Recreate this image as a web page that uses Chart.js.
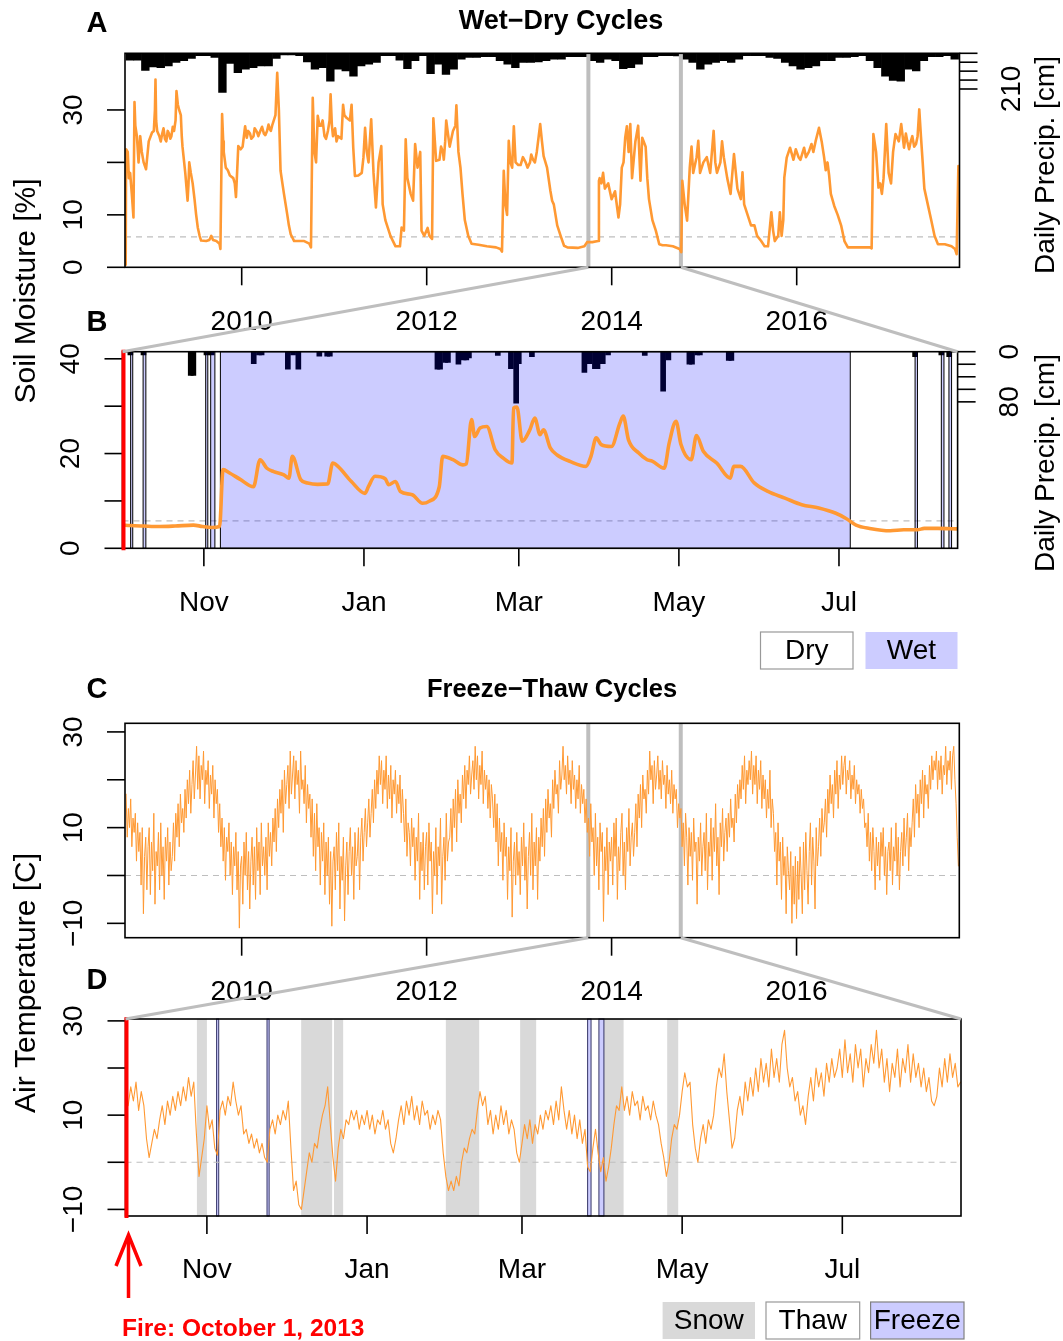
<!DOCTYPE html>
<html>
<head>
<meta charset="utf-8">
<script src="https://cdn.jsdelivr.net/npm/chart.js@4.4.1/dist/chart.umd.min.js"></script>
<style>
  html, body { margin: 0; padding: 0; background: #fff; }
  #wrap { position: relative; width: 1063px; height: 1341px; overflow: hidden; }
  #wrap canvas { position: absolute; left: 0; top: 0; }
</style>
</head>
<body>
<div id="wrap">
  <canvas id="cA" width="1063" height="1341"></canvas>
  <canvas id="cB" width="1063" height="1341"></canvas>
  <canvas id="cC" width="1063" height="1341"></canvas>
  <canvas id="cD" width="1063" height="1341"></canvas>
  <canvas id="cOver" width="1063" height="1341"></canvas>
</div>
<script>
// ---------------- data ----------------
// Axis ticks
const yearTicks = [2010, 2012, 2014, 2016];
const yearTickLabels = ['2010', '2012', '2014', '2016'];
const monthTickDays = [31, 92, 151, 212, 273];          // days after 1 Oct 2013
const monthTickLabels = ['Nov', 'Jan', 'Mar', 'May', 'Jul'];
const moistureTicksA = [0, 10, 20, 30];
const moistureLabelsA = ['0', '10', '', '30'];
const moistureTicksB = [0, 10, 20, 30, 40];
const moistureLabelsB = ['0', '', '20', '', '40'];
const precipTicksA = [0, 52.5, 105, 157.5, 210];
const precipLabelsA = ['', '', '', '', '210'];
const precipTicksB = [0, 20, 40, 60, 80];
const precipLabelsB = ['0', '', '', '', '80'];
const tempTicks = [-10, 0, 10, 20, 30];
const tempLabels = ['\u221210', '', '10', '', '30'];

// Fire date and the one-year window shown in the detail panels (decimal years)
const fireYear = 2013.748;
const windowEndYear = 2014.748;
const dryThreshold = 5.8;   // % soil moisture
const freezePoint = 0;      // deg C

// Panel A: soil moisture [%] (decimal year, value)
const soilMoistureA = [
 [2008.746,0.5],[2008.750,22.5],[2008.768,22],[2008.780,17],[2008.794,18],[2008.812,14],[2008.830,9.5],[2008.841,31.5],
 [2008.850,27],[2008.867,25],[2008.885,20],[2008.903,25],[2008.920,22],[2008.940,20],[2008.966,18.7],[2008.995,24],
 [2009.031,25.7],[2009.050,26],[2009.062,30],[2009.068,35.8],[2009.075,28],[2009.086,26],[2009.110,25],[2009.125,24],
 [2009.141,25.5],[2009.155,26.5],[2009.170,24.5],[2009.185,24],[2009.200,26],[2009.214,25.5],[2009.228,24.5],[2009.240,25],
 [2009.255,26.8],[2009.269,26],[2009.285,28],[2009.295,33.6],[2009.310,31],[2009.324,30],
 [2009.342,29],[2009.352,25],[2009.360,23],[2009.390,18],[2009.415,12.7],[2009.425,16],[2009.433,20],[2009.450,18],
 [2009.470,16],[2009.490,13],[2009.507,10.1],[2009.525,7.6],[2009.545,6],[2009.561,5.1],[2009.616,5],[2009.650,5.2],
 [2009.671,6],[2009.690,5.2],[2009.726,5],[2009.760,4.5],[2009.770,3.5],[2009.788,29.2],[2009.800,24],[2009.806,22],
 [2009.828,19],[2009.850,18.5],[2009.872,17.5],[2009.909,17],[2009.925,16],[2009.938,13.4],[2009.950,18],[2009.963,23.1],
 [2009.989,22.5],[2010.010,23],[2010.037,26.9],[2010.055,24.7],[2010.070,26],[2010.090,25.5],[2010.105,24.5],[2010.128,25],
 [2010.140,26.5],[2010.165,25.8],[2010.180,25],[2010.201,26],[2010.220,26.8],[2010.240,25.5],[2010.255,25.2],[2010.274,26],
 [2010.290,27.2],[2010.300,26.5],[2010.315,26],[2010.329,27],[2010.365,29],[2010.384,37.1],[2010.402,30],[2010.420,18.4],
 [2010.440,16],[2010.457,14],[2010.475,12],[2010.493,10],[2010.510,8],[2010.530,6.3],[2010.567,5],[2010.620,5],
 [2010.676,5],[2010.731,4.5],[2010.749,3.8],[2010.768,32.3],[2010.786,22],[2010.804,20],[2010.822,28.9],[2010.840,27],
 [2010.859,27],[2010.875,28],[2010.895,25],[2010.912,24.5],[2010.932,26],[2010.950,28],[2010.961,33],[2010.975,27],
 [2010.987,25],[2011.010,26.5],[2011.025,24],[2011.042,25],
 [2011.078,24.5],[2011.096,31],[2011.110,29],[2011.133,28.5],[2011.170,28],[2011.188,31],[2011.206,22.8],[2011.224,17.4],
 [2011.261,17.5],[2011.298,18],[2011.316,20.9],[2011.334,26.6],[2011.352,22],[2011.371,20],[2011.400,28.2],[2011.425,18],
 [2011.451,11.4],[2011.470,17],[2011.480,20],[2011.509,23.1],[2011.524,12],[2011.553,9],[2011.580,7.5],[2011.608,6],
 [2011.663,4],[2011.711,4],[2011.729,7.6],[2011.754,7],[2011.773,24.4],[2011.791,17],[2011.827,14],[2011.853,12.7],
 [2011.875,23.5],[2011.901,19],[2011.930,22],[2011.944,7],[2011.974,6],[2012.010,7.5],[2012.029,6],[2012.058,5.4],
 [2012.072,28.4],[2012.102,20.3],[2012.138,20.5],[2012.155,23],[2012.175,22],[2012.185,20.5],[2012.200,24],[2012.211,28],
 [2012.248,23],[2012.284,26],
 [2012.310,27],[2012.321,30.9],[2012.343,22],[2012.365,19],[2012.387,14],[2012.412,9],[2012.449,6],[2012.485,4.5],
 [2012.560,4.3],[2012.650,4],[2012.750,3.8],[2012.796,3.5],[2012.814,3],[2012.833,18.4],[2012.851,12],[2012.869,10],
 [2012.887,24.1],[2012.905,20],[2012.924,19],[2012.942,26.9],[2012.961,20],[2012.990,19.5],[2013.015,19.5],[2013.040,21],
 [2013.070,20],[2013.090,19],[2013.117,20],[2013.130,21.5],[2013.150,20.5],[2013.170,20],[2013.190,22],[2013.227,27.3],
 [2013.246,24],[2013.264,21.2],[2013.301,19],[2013.337,14.6],
 [2013.356,12.7],[2013.374,12],[2013.411,8],[2013.448,6],[2013.485,4.1],[2013.521,3.8],[2013.632,3.7],[2013.705,4],
 [2013.734,4.8],[2013.790,4.8],[2013.852,5],[2013.862,16.5],[2013.870,17],[2013.889,16],[2013.907,18],[2013.926,15],
 [2013.962,16],[2013.999,13],[2014.036,14.5],[2014.073,9.5],[2014.091,12],[2014.109,19],[2014.128,20],[2014.146,24.7],
 [2014.164,26.9],[2014.183,22],[2014.201,27.3],[2014.220,17],[2014.256,24],[2014.286,27],[2014.311,16.5],[2014.330,24.7],
 [2014.367,23],[2014.385,17],[2014.403,13],[2014.440,9],[2014.477,7],[2014.514,4.4],[2014.550,4.2],[2014.587,4.2],
 [2014.661,4],[2014.734,3.5],[2014.752,2.9],[2014.763,16.5],[2014.789,12],[2014.815,8.9],[2014.844,19],[2014.863,23],
 [2014.881,18],[2014.918,21],[2014.936,24.1],[2014.955,18],[2014.991,20],[2015.028,21],[2015.065,18],[2015.102,26],
 [2015.120,20],[2015.138,18],[2015.175,20],[2015.193,24],[2015.212,21],[2015.249,17],[2015.285,14],[2015.322,21.6],
 [2015.359,15],[2015.396,13],[2015.414,18.1],[2015.432,12],[2015.469,10],[2015.506,8],[2015.543,8],[2015.572,6],
 [2015.616,5],[2015.653,4],[2015.690,4],[2015.726,10.5],[2015.745,7],[2015.763,5],[2015.800,6],[2015.818,10.5],
 [2015.837,6],[2015.855,9],[2015.866,17.1],[2015.892,20.9],[2015.928,22.8],[2015.965,20.5],[2015.990,22.5],[2016.020,21],
 [2016.040,20.5],[2016.057,21.5],[2016.080,22.8],[2016.100,21],[2016.131,22],[2016.160,23.5],[2016.180,22],[2016.204,24],
 [2016.241,26.6],[2016.270,24],[2016.296,21],[2016.314,18.5],[2016.333,20],[2016.351,17.5],
 [2016.369,14],[2016.406,11.7],[2016.443,10],[2016.480,8],[2016.516,5],[2016.553,3.8],[2016.645,3.8],[2016.792,3.8],
 [2016.810,3.6],[2016.829,25.4],[2016.858,22],[2016.884,15.2],[2016.902,16],[2016.921,14],[2016.939,17],[2016.968,27.3],
 [2016.994,18],[2017.020,16],[2017.042,22],[2017.068,25.4],[2017.104,24],[2017.130,27.3],[2017.160,22.8],[2017.180,25.5],
 [2017.196,24],[2017.215,22.5],[2017.233,24],[2017.250,25],[2017.270,23],[2017.290,23.5],[2017.307,25],[2017.325,30.1],
 [2017.343,25],[2017.362,20],[2017.380,15],[2017.417,12],
 [2017.454,9],[2017.490,6],[2017.527,4.4],[2017.601,4.4],[2017.674,4],[2017.711,3.5],[2017.729,2.5],[2017.748,19.3]
];

// Panel A: precipitation, one bar per month starting Oct 2008 [cm]
const precipStartA = 2008.75;
const precipMonthlyA = [
 40,40,100,80,84,74,54,44,30,14, 14,24,230,60,114,94,84,74,74,30,
 10,10,14,50,94,84,164,94,104,134, 74,64,54,14,14,40,90,44,14,120,
 64,124,94,34,24,24,20,20,44,64, 84,54,54,50,44,34,34,20,20,20,
 44,54,34,44,90,84,64,20,20,14, 14,16,34,54,94,64,54,44,54,34,
 14,14,14,24,30,54,74,94,84,74, 44,44,24,24,20,14,44,84,134,160,
 164,94,104,44,20,20,14,34
];

// Panel B: soil moisture [%] (days after 1 Oct 2013, value)
const soilMoistureB = [
 [0,4.9],[3,4.8],[8,4.7],[14,4.6],[20,4.7],[27,4.9],[30.5,4.6],[34,4.4],[37,4.6],[38.3,16.6],[40.8,15.9],[44.7,14.6],
 [49.9,13],[52.4,18.7],[55,16.9],[57.6,16.2],[61.5,15.5],[63.4,14.8],[64.7,19.4],[67.9,14.5],[70.5,13.8],[74.3,13.5],
 [78.2,13.6],[80.1,18],[82.1,17.3],[87.2,14.1],[92.4,11.6],[93.7,13],[96.2,15.2],[100.1,14.7],[101.4,13.4],[104,14.1],
 [105.9,12],[110.4,11.3],[114.3,9.5],[116.8,9.9],[120.7,13],[122,19.4],[125.9,18.7],[129.7,17.6],[131,17.8],[133,27.2],
 [134.2,23.6],[136.2,25.4],[138.8,25.7],[142,20.8],[145.2,19],[148.4,18],[149,29.6],[150.3,29.8],[152.3,22.6],[155.2,25],
 [157.1,27.5],[159.1,24],[160.4,25],[163,21.2],[165.6,19.7],[170.7,18.3],[176.6,17.3],[178.5,19.4],[180.5,23.3],[182.4,21.9],
 [186.3,21.5],[189.5,26.4],[190.8,27.9],[192.8,22.9],[196.7,20.1],[199.9,18.7],[201.8,18.4],[206.4,16.9],[208.3,22.2],
 [210.9,26.8],[212.8,21.9],[216.7,18.7],[218.7,23.8],[221.3,20.5],[226.4,18],[231.6,14.8],[232.9,17.3],[235.5,17.3],
 [240.7,13.8],[245.9,12],[252.4,10.6],[258.8,9.2],[265.3,8.5],[271.8,7.4],[275.7,6.3],[279.5,4.9],[284.7,4.2],[292.5,3.7],
 [297.7,3.9],[302.9,3.9],[305.5,4.2],[310.6,4.2],[318.2,4.1]
];

// Panel B: daily precipitation [cm] (day, value)
const precipDailyB = [
 [3,5],[8,5],[26,38],[27,38],[32,5],[34,5],[50,19],[52,5],[53,5],[63,28],[65,5],[67,28],[75,7],[78,7],[79,7],
 [120,28],[121,28],[123,17],[124,17],[128,20],[130,13],[131,13],[132,10],[143,6],[148,27],[150,82],[151,19],[156,8],
 [176,33],[178,19],[180,27],[181,27],[183,19],[185,5],[199,6],[206,63],[208,13],[216,20],[217,20],[219,5],[220,5],
 [231,14],[232,14],[302,8],[312,5],[315,8]
];

// Panel B: wet spells (start day, end day)
const wetSpellsB = [[3.1,3.9],[7.85,8.9],[31.7,32.5],[33.6,35.2],[37.3,277.3],[302,302.9],[312,313],[314.9,315.9]];

// Panel C: air temperature [C], sampled every 1/80 year from Oct 2008 (one row per season)
const tempStartC = 2008.75;
const tempStepC = 1 / 80;
const airTempC = [
 17,8,14,10,16,6,12,9,13,3,11,5,9,-2,10,-8,4,8,-3,6,
 10,-4,7,1,13,-6,5,2,9,-3,11,0,6,-5,8,3,10,-2,7,1,
 4,11,3,13,8,15,6,17,11,14,9,18,12,20,15,22,13,19,24,16,
 21,27,18,25,16,23,20,26,15,22,19,24,14,21,17,23,12,20,15,18,
 9,15,6,12,3,10,-1,8,5,11,0,7,-4,6,2,9,-3,5,-11,2,
 4,-6,7,0,9,-3,5,-7,3,8,-2,6,-5,10,1,7,-4,11,2,6,
 0,8,-3,11,4,9,2,12,7,14,5,16,10,18,13,20,9,22,15,19,
 23,14,26,17,21,25,16,24,19,22,13,26,18,20,15,23,11,19,14,17,
 8,16,4,13,1,15,6,10,-2,9,3,11,-4,7,0,8,-6,5,-10.6,3,
 6,-3,9,1,11,-7,4,-1,8,-9.5,2,7,-4,5,10,0,6,-5,9,2,
 4,10,-3,8,12,3,9,14,6,11,16,8,13,18,11,20,14,22,17,25,
 19,24,15,22,18,25,14,21,16,23,12,20,17,22,13,19,15,21,11,18,
 13,7,16,4,11,9,2,12,6,10,-1,8,3,13,-5,7,1,9,-3,6,
 9,-2,11,3,7,-8,5,0,10,-4,6,2,12,-6,4,8,-1,13,3,7,
 8,14,5,16,10,18,7,20,13,17,11,21,16,23,14,22,19,25,17,21,
 24,18,27,20,25,16,23,19,26,15,22,18,21,14,20,12,19,16,10,17,
 7,15,2,12,5,9,-1,11,4,8,-5,6,1,10,-8.7,3,7,-2,9,0,
 5,-4,8,2,11,-1,6,-7,4,9,0,13,-3,7,2,10,-5,8,3,12,
 6,14,4,16,9,18,12,15,8,20,14,22,17,19,13,24,18,21,27,20,
 23,17,25,19,22,15,24,18,21,14,20,16,23,13,19,15,18,11,16,9,
 12,4,15,7,10,0,13,2,8,-3,11,5,9,-9.6,6,1,10,-4,7,3,
 8,-2,11,4,12,-5,6,1,9,13,0,7,-3,10,5,14,2,8,11,4,
 9,15,6,17,12,19,10,21,16,18,13,22,17,26,20,23,15,24,18,21,
 25,18,22,16,24,19,21,14,23,17,20,15,22,13,19,16,18,10,15,12,
 14,6,11,2,13,8,-2,10,4,9,-1,12,5,7,-6,8,3,11,0,6,
 9,1,13,-3,7,4,12,-1,10,5,15,2,8,-4,11,6,14,3,9,12,
 5,13,8,16,10,12,7,17,11,19,14,20,16,23,18,25,15,22,19,24,
 20,26,17,23,19,25,15,22,18,24,14,21,16,20,12,18,14,22,10,16,
 13,5,9,-2,11,3,7,-5,8,0,4,-8,6,1,-3,5,-10,2,-6,4,
 -9,3,-5,6,0,-8,7,-3,9,1,-6,5,11,-2,8,3,-7,10,2,6,
 12,4,14,9,11,16,8,18,13,21,15,19,12,22,17,24,14,21,18,25,
 19,23,25,17,22,20,24,16,21,18,23,15,20,17,19,13,18,14,16,10,
 11,6,13,3,9,1,10,5,-3,8,2,7,-1,9,4,10,0,6,-4,5,
 7,1,10,-2,6,3,11,0,8,-3,5,9,2,12,4,8,13,1,10,6,
 11,16,8,19,13,17,10,20,15,22,12,21,17,19,14,23,18,25,20,24,
 22,26,18,24,20,25,17,23,21,27,19,24,22,26,18,25,27,20,15,8,
 2
];

// Panel D: daily air temperature [C], day 0 = 1 Oct 2013
const airTempD = [
 14,12,16, 13,17,11,15,12, 5,1, 4,7,5, 9,12,8,13,10,14,11,15,12, 16,13,18,14,17, 6,-3,1, 5,12,7,9, 3,1.5,
 11,13,10,14,12,17,13, 10,12,6, 7,4,6,3,5,2,4,1,0, 7,9,6,10,8,11,9,13, 3,-6,-4,-9, -10,-6,
 -2,2,0,4,3,7,10, 12,16, 8,1,-4, 3,7,5,9,8,11, 9,11,7,10,8,11,7,10,6,9,8,11,7,9, 4,2,5,
 9,12,8,13,10,14,9,12,8,13,10,11,7,10,8,11,9, 2,-3,-6,-4,-6,-3,-5, 0,3,2,5,7,6, 11,15,12,14,
 8,11,6,10,7,12,8,11,6,9,7, 2,0, 4,8,5,9, 4,8,6,10,7,11,9, 12,8,13,9,16,11, 7,11,6,10,5,9,4,7,
 -1,-2, 3,7,2, -2,1,-4,-1,3, 8,12,11,16, 11,14,10,15,12,13,9,14,11,12,9,13,10,8, 4,1,-3,0,
 5,8,7,10, 15,19,16,17, 8,3,0, 5,8,4,9,7,10, 16,20,18,23,15, 9,3,5, 11,14,10,17,13,
 18,14,20,15,22,17,21,16,24,18,22,17,25,28, 20,16,18,13,15,10,12,8,
 14,18,13,20,16,19,14,21,17,22,18,20, 24,18,26,19,23,17,25,20,24,16,22,19,25,21,28,
 20,24,17,22,15,21,18,24,16,22,19,25,17,23,18,21,16,20,15,18, 13,12,14, 20,16,22,17,23,18,21,16,17
];

// Panel D: snow cover and freeze spells (start day, end day)
const snowSpellsD = [[27.2,31.0],[66.9,78.7],[79.4,82.9],[122,134.7],[150.3,156.4],[182.2,189.7],[206.3,210.5]];
const freezeSpellsD = [[34.7,35.5],[53.9,54.7],[176,177.3],[180.3,182.2]];

// ---------------- drawing ----------------
const W = 1063, H = 1341;
const FONT = '"Liberation Sans", Arial, Helvetica, sans-serif';
const ORANGE = '#FF9933';
const GRAY = '#BEBEBE';
const WET_FILL = 'rgba(0,0,255,0.2)';
const SNOW_FILL = '#D9D9D9';
const TICK = 18;

function seg(ctx, x0, y0, x1, y1) { ctx.beginPath(); ctx.moveTo(x0, y0); ctx.lineTo(x1, y1); ctx.stroke(); }
function rotText(ctx, t, x, y) { ctx.save(); ctx.translate(x, y); ctx.rotate(-Math.PI / 2); ctx.fillText(t, 0, 0); ctx.restore(); }

function drawAxes(chart, spec) {
  const ctx = chart.ctx, a = chart.chartArea, s = chart.scales;
  ctx.save();
  ctx.strokeStyle = '#000'; ctx.fillStyle = '#000'; ctx.lineWidth = 1.6;
  ctx.strokeRect(a.left, a.top, a.right - a.left, a.bottom - a.top);
  ctx.font = '28px ' + FONT; ctx.textAlign = 'center'; ctx.textBaseline = 'middle';
  spec.xTicks.forEach((v, i) => {
    const x = s.x.getPixelForValue(v);
    seg(ctx, x, a.bottom, x, a.bottom + TICK);
    ctx.fillText(spec.xLabels[i], x, a.bottom + 54.5);
  });
  spec.yTicks.forEach((v, i) => {
    const y = s.y.getPixelForValue(v);
    seg(ctx, a.left - TICK, y, a.left, y);
    if (spec.yLabels[i]) rotText(ctx, spec.yLabels[i], a.left - 51, y);
  });
  if (spec.pTicks) {
    spec.pTicks.forEach((v, i) => {
      const y = s.p.getPixelForValue(v);
      seg(ctx, a.right, y, a.right + TICK, y);
      if (spec.pLabels[i]) rotText(ctx, spec.pLabels[i], a.right + 53, y);
    });
  }
  ctx.restore();
}

function spans(chart, list, fill, stroke, lw) {
  const ctx = chart.ctx, a = chart.chartArea, x = chart.scales.x;
  ctx.save();
  list.forEach(([s0, s1]) => {
    const x0 = x.getPixelForValue(s0), x1 = x.getPixelForValue(s1);
    ctx.fillStyle = fill;
    ctx.fillRect(x0, a.top, x1 - x0, a.bottom - a.top);
    if (stroke) { ctx.strokeStyle = stroke; ctx.lineWidth = lw; ctx.strokeRect(x0, a.top, x1 - x0, a.bottom - a.top); }
  });
  ctx.restore();
}

function windowLines(chart) {
  const ctx = chart.ctx, a = chart.chartArea, x = chart.scales.x;
  ctx.save(); ctx.strokeStyle = GRAY; ctx.lineWidth = 4;
  [fireYear, windowEndYear].forEach(v => { const px = x.getPixelForValue(v); seg(ctx, px, a.top, px, a.bottom); });
  ctx.restore();
}

function fireLine(chart) {
  const ctx = chart.ctx, a = chart.chartArea, px = chart.scales.x.getPixelForValue(0) + 1;
  ctx.save(); ctx.strokeStyle = '#FF0000'; ctx.lineWidth = 4;
  seg(ctx, px, a.top - 2, px, a.bottom + 2);
  ctx.restore();
}

function panelPlugin(spec) {
  return {
    id: 'panel',
    beforeDatasetsDraw(chart) { if (spec.under) spec.under(chart); },
    beforeDatasetDraw(chart, args) {
      if (spec.beforeSeries && chart.data.datasets[args.index].label === 'series') spec.beforeSeries(chart);
    },
    afterDraw(chart) { drawAxes(chart, spec); if (spec.over) spec.over(chart); }
  };
}

function makeChart(id, box, scales, datasets, spec) {
  return new Chart(document.getElementById(id), {
    type: 'line',
    data: { datasets },
    options: {
      responsive: false, animation: false, devicePixelRatio: 1, events: [],
      layout: { padding: { left: box.left, top: box.top, right: W - box.right, bottom: H - box.bottom } },
      plugins: { legend: { display: false }, tooltip: { enabled: false } },
      elements: { point: { radius: 0 }, line: { tension: 0 } },
      scales
    },
    plugins: [panelPlugin(spec)]
  });
}

const pts = arr => arr.map(([x, y]) => ({ x, y }));
const yearMin = 2008.7384, yearMax = 2017.760;
const dayMin = 0, dayMax = 318.2;

function seriesLine(data, width, smooth) {
  const ds = { label: 'series', type: 'line', data, borderColor: ORANGE, borderWidth: width, pointRadius: 0,
               borderJoinStyle: 'round', borderCapStyle: 'round', order: 0, yAxisID: 'y' };
  if (smooth) ds.cubicInterpolationMode = 'monotone';
  return ds;
}
function hLine(v, x0, x1) {
  return { label: 'ref', type: 'line', data: [{ x: x0, y: v }, { x: x1, y: v }], borderColor: GRAY,
           borderWidth: 1.2, borderDash: [6, 5], pointRadius: 0, order: 1, yAxisID: 'y' };
}

// Panel A
const chartA = makeChart('cA', { left: 125, right: 959.5, top: 53.3, bottom: 267.3 }, {
    x: { type: 'linear', display: false, min: yearMin, max: yearMax, offset: false },
    y: { type: 'linear', display: false, min: 0, max: 40.8 },
    p: { type: 'linear', axis: 'y', position: 'right', display: false, reverse: true, min: 0, max: 1259 }
  }, [
    seriesLine(pts(soilMoistureA), 2.6),
    hLine(dryThreshold, yearMin, yearMax),
    { label: 'precip', type: 'bar', yAxisID: 'p', order: 2, backgroundColor: '#000', borderWidth: 0,
      barPercentage: 1, categoryPercentage: 1,
      data: precipMonthlyA.map((v, i) => ({ x: precipStartA + (i + 0.5) / 12, y: v })) }
  ], {
    xTicks: yearTicks, xLabels: yearTickLabels, yTicks: moistureTicksA, yLabels: moistureLabelsA,
    pTicks: precipTicksA, pLabels: precipLabelsA, beforeSeries: windowLines
  });

// Panel B
const chartB = makeChart('cB', { left: 122.5, right: 957.6, top: 351.7, bottom: 548.3 }, {
    x: { type: 'linear', display: false, min: dayMin, max: dayMax, offset: false },
    y: { type: 'linear', display: false, min: 0, max: 41.5 },
    p: { type: 'linear', axis: 'y', position: 'right', display: false, reverse: true, min: 0, max: 313.6 }
  }, [
    seriesLine(pts(soilMoistureB), 3.6, true),
    hLine(dryThreshold, dayMin, dayMax),
    { label: 'precip', type: 'bar', yAxisID: 'p', order: 2, backgroundColor: '#000', borderWidth: 0,
      barThickness: 5, data: pts(precipDailyB) }
  ], {
    xTicks: monthTickDays, xLabels: monthTickLabels, yTicks: moistureTicksB, yLabels: moistureLabelsB,
    pTicks: precipTicksB, pLabels: precipLabelsB,
    beforeSeries: ch => spans(ch, wetSpellsB, WET_FILL, '#000', 1),
    over: fireLine
  });

// Panel C
const chartC = makeChart('cC', { left: 125, right: 959.3, top: 723.3, bottom: 937.7 }, {
    x: { type: 'linear', display: false, min: yearMin, max: yearMax, offset: false },
    y: { type: 'linear', display: false, min: -13, max: 31.8 }
  }, [
    seriesLine(airTempC.map((v, i) => ({ x: tempStartC + i * tempStepC, y: v })), 1),
    hLine(freezePoint, yearMin, yearMax)
  ], {
    xTicks: yearTicks, xLabels: yearTickLabels, yTicks: tempTicks, yLabels: tempLabels,
    beforeSeries: windowLines
  });

// Panel D
const chartD = makeChart('cD', { left: 125.5, right: 961, top: 1019, bottom: 1216 }, {
    x: { type: 'linear', display: false, min: dayMin, max: dayMax, offset: false },
    y: { type: 'linear', display: false, min: -11.4, max: 30.4 }
  }, [
    seriesLine(airTempD.map((v, i) => ({ x: i, y: v })), 1.1),
    hLine(freezePoint, dayMin, dayMax)
  ], {
    xTicks: monthTickDays, xLabels: monthTickLabels, yTicks: tempTicks, yLabels: tempLabels,
    under: ch => { spans(ch, snowSpellsD, SNOW_FILL); spans(ch, freezeSpellsD, WET_FILL, '#333366', 1); },
    over: fireLine
  });

// ---------------- annotations ----------------
(function annotate() {
  const ctx = document.getElementById('cOver').getContext('2d');
  // zoom connectors from the overview panels to the detail panels
  function link(top, bottom) {
    const a = top.chartArea, b = bottom.chartArea;
    const x0 = top.scales.x.getPixelForValue(fireYear), x1 = top.scales.x.getPixelForValue(windowEndYear);
    ctx.save(); ctx.strokeStyle = GRAY; ctx.lineWidth = 3;
    seg(ctx, x0, a.bottom, b.left, b.top);
    seg(ctx, x1, a.bottom, b.right, b.top);
    ctx.restore();
  }
  link(chartA, chartB);
  link(chartC, chartD);

  ctx.fillStyle = '#000'; ctx.textAlign = 'center'; ctx.textBaseline = 'middle';
  ctx.font = 'bold 29px ' + FONT;
  [['A', 24], ['B', 323], ['C', 690], ['D', 981]].forEach(([t, y]) => ctx.fillText(t, 97, y));
  ctx.font = 'bold 27px ' + FONT; ctx.fillText('Wet\u2212Dry Cycles', 561, 22);
  ctx.font = 'bold 25.5px ' + FONT; ctx.fillText('Freeze\u2212Thaw Cycles', 552, 690);

  ctx.font = '30px ' + FONT;
  rotText(ctx, 'Soil Moisture [%]', 27, 291);
  rotText(ctx, 'Air Temperature [C]', 27, 983);
  ctx.font = '28px ' + FONT;
  rotText(ctx, 'Daily Precip. [cm]', 1046, 165);
  rotText(ctx, 'Daily Precip. [cm]', 1046, 463);

  function key(x, y, w, h, fill, stroke, label) {
    ctx.save();
    ctx.fillStyle = fill; ctx.fillRect(x, y, w, h);
    if (stroke) { ctx.strokeStyle = stroke; ctx.lineWidth = 1.2; ctx.strokeRect(x, y, w, h); }
    ctx.fillStyle = '#000'; ctx.font = '28px ' + FONT; ctx.textAlign = 'center'; ctx.textBaseline = 'middle';
    ctx.fillText(label, x + w / 2, y + h / 2 + 1);
    ctx.restore();
  }
  key(760.5, 632, 92.5, 37, '#FFFFFF', '#999999', 'Dry');
  key(865.5, 632, 92, 37, '#CCCCFF', null, 'Wet');
  key(662.6, 1302, 92.4, 37, SNOW_FILL, null, 'Snow');
  key(766, 1302, 93.7, 37, '#FFFFFF', '#999999', 'Thaw');
  key(870.6, 1302, 93.4, 37, '#CCCCFF', '#808080', 'Freeze');

  // fire marker
  const fx = chartD.scales.x.getPixelForValue(0) + 3;
  ctx.save(); ctx.strokeStyle = '#FF0000'; ctx.lineWidth = 3.5; ctx.lineJoin = 'miter';
  seg(ctx, fx, 1298, fx, 1236);
  ctx.beginPath(); ctx.moveTo(fx - 12.5, 1266); ctx.lineTo(fx, 1235); ctx.lineTo(fx + 12.5, 1266); ctx.stroke();
  ctx.fillStyle = '#FF0000'; ctx.font = 'bold 24.5px ' + FONT; ctx.textAlign = 'left'; ctx.textBaseline = 'middle';
  ctx.fillText('Fire: October 1, 2013', 122, 1329);
  ctx.restore();
})();
</script>
</body>
</html>
